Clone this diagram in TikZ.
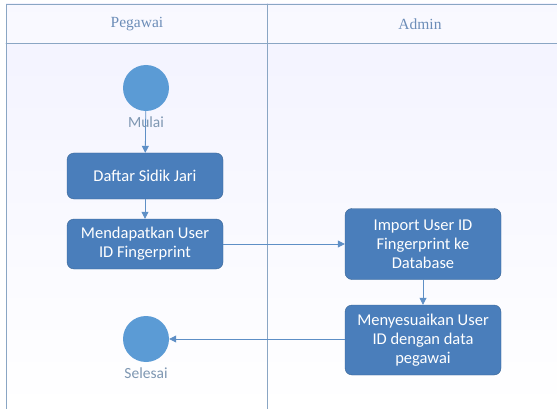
\documentclass[tikz,border=0pt]{standalone}
\usepackage{fontspec}
\setmainfont{Carlito}
\newfontfamily\headfont{Liberation Serif}
\usetikzlibrary{arrows.meta, positioning}
\definecolor{actfill}{HTML}{4A7EBB}
\definecolor{actline}{HTML}{3A6594}
\definecolor{dotfill}{HTML}{5B9BD5}
\definecolor{laneline}{HTML}{8AA6C4}
\definecolor{headtext}{HTML}{6C8DB8}
\definecolor{flowline}{HTML}{5E8FC6}
\definecolor{lbltext}{HTML}{7E97B2}

\begin{document}
\begin{tikzpicture}[
  x=1pt, y=-1pt,
  line cap=round, line join=round,
  act/.style={draw=actline, fill=actfill, rounded corners=7pt, text=white,
    minimum width=156pt, align=center, font=\fontsize{16.5}{19}\selectfont},
  dot/.style={circle, fill=dotfill, minimum size=46pt, inner sep=0pt},
  lbl/.style={text=lbltext, font=\fontsize{15.5}{18}\selectfont},
  flow/.style={draw=flowline, thick, -{Triangle[length=7pt, width=7pt]}},
  lane/.style={draw=laneline, thick},
  head/.style={text=headtext, font=\headfont\fontsize{15.5}{18}\selectfont}
]
  \useasboundingbox (0,0) rectangle (557,409);
  % swimlane background and frame
  \shade[top color=blue!5, bottom color=white] (6,4) rectangle (557,409);
  \fill[white, opacity=0.5] (6,4) rectangle (557,43);
  \draw[lane] (6,409) -- (6,4) -- (557,4);
  \draw[lane] (6,43) -- (557,43);
  \draw[lane] (267,4) -- (267,409);
  \node[head] (pegawai) at (137,24) {Pegawai};
  \node[head] (admin) at (420,24) {Admin};
  % start / end
  \node[dot] (mulai) at (146,88) {};
  \node[dot] (selesai) at (146,339) {};
  % activities
  \node[act, minimum height=46pt] (daftar) at (145,176) {Daftar Sidik Jari};
  \node[act, minimum height=50pt] (dapat) at (145,244) {Mendapatkan User\\ID Fingerprint};
  \node[act, minimum height=71pt] (import) at (423,244) {Import User ID\\Fingerprint ke\\Database};
  \node[act, minimum height=70pt] (sesuai) at (423,340) {Menyesuaikan User\\ID dengan data\\pegawai};
  % flows
  \draw[flow] (mulai) -- (daftar);
  \draw[flow] (daftar) -- (dapat);
  \draw[flow] (dapat.east |- import) -- (import);
  \draw[flow] (import) -- (sesuai);
  \draw[flow] (sesuai.west |- selesai) -- (selesai);
  % labels
  \node[lbl, below=2pt of mulai] (mulaitxt) {Mulai};
  \node[lbl, below=2pt of selesai] (selesaitxt) {Selesai};
\end{tikzpicture}
\end{document}
